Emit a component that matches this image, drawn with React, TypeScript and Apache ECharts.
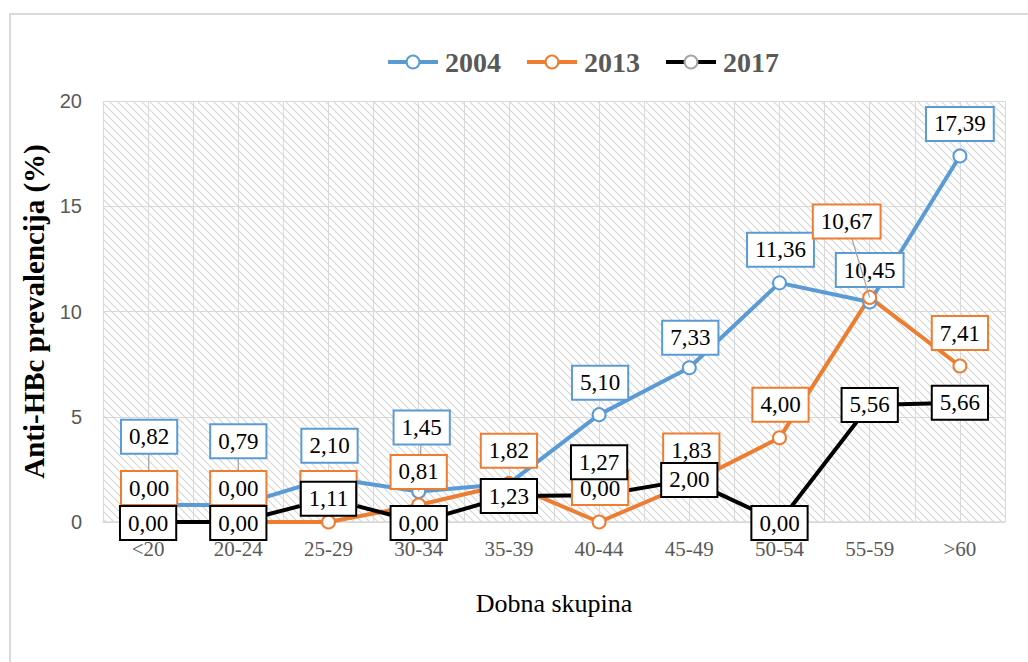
import React, { useEffect, useRef } from "react";
import * as echarts from "echarts";

const categories = ["<20", "20-24", "25-29", "30-34", "35-39", "40-44", "45-49", "50-54", "55-59", ">60"];
const values2004 = [0.82, 0.79, 2.1, 1.45, 1.82, 5.1, 7.33, 11.36, 10.45, 17.39];
const values2013 = [0.0, 0.0, 0.0, 0.81, 1.82, 0.0, 1.83, 4.0, 10.67, 7.41];
const values2017 = [0.0, 0.0, 1.11, 0.0, 1.23, 1.27, 2.0, 0.0, 5.56, 5.66];
const seriesNames = ["2004", "2013", "2017"];
const yTicks = [0, 5, 10, 15, 20];

// label placement (pixel offsets from the point), layout only
const labelLayout2004: (number[] | null)[] = [[1, -68, 1], [0, -64, 1], [1, -32, 0], [3, -64, 1], null, [1, -32, 0], [1, -30, 0], [1, -33, 0], [0, -32, 0], [0, -32, 0]];
const labelLayout2013: (number[] | null)[] = [[1, -34, 0], [0, -34, 0], [0, -34, 0], [0, -33, 0], [0, -33, 0], [1, -34, 0], [2, -33, 0], [1, -33, 0], [-23, -76, 1], [0, -33, 0]];
const labelLayout2017: (number[] | null)[] = [[0, 1, 0], [0, 1, 0], [0, 0, 0], [0, 1, 0], [0, 0, 0], [0, -33, 0], [0, 0, 0], [0, 1, 0], [0, 0, 0], [0, 0, 0]];

const COLORS = { c2004: "#5B9BD5", c2013: "#ED7D31", c2017: "#000000", m2017: "#A5A5A5" };

function makeHatch(): HTMLCanvasElement {
  const c = document.createElement("canvas");
  const s = 8;
  c.width = s;
  c.height = s;
  const ctx = c.getContext("2d")!;
  ctx.fillStyle = "#ffffff";
  ctx.fillRect(0, 0, s, s);
  ctx.strokeStyle = "#d6d6d6";
  ctx.lineWidth = 1.1;
  ctx.beginPath();
  ctx.moveTo(-1, -1);
  ctx.lineTo(s + 1, s + 1);
  ctx.moveTo(-1, s - 1);
  ctx.lineTo(1, s + 1);
  ctx.moveTo(s - 1, -1);
  ctx.lineTo(s + 1, 1);
  ctx.stroke();
  return c;
}

const fmt = (v: number) => v.toFixed(2).replace(".", ",");

function labelSeries(name: string, values: number[], layout: (number[] | null)[], border: string, z: number) {
  return {
    type: "custom",
    name: "lbl" + name,
    z,
    silent: true,
    clip: false,
    data: values.map((v, i) => [i, v]),
    renderItem: (params: any, api: any) => {
      const i = params.dataIndex;
      const lay = layout[i];
      if (!lay) return null;
      const p = api.coord([api.value(0), api.value(1)]);
      const lx = p[0] + lay[0];
      const ly = p[1] + lay[1];
      const children: any[] = [];
      if (lay[2]) {
        children.push({
          type: "line",
          shape: { x1: p[0], y1: p[1], x2: lx, y2: ly },
          style: { stroke: "#a6a6a6", lineWidth: 1.3 },
        });
      }
      children.push({
        type: "text",
        x: lx,
        y: ly,
        style: {
          text: fmt(values[i]),
          fontFamily: "Liberation Serif",
          fontSize: 23,
          fill: "#000",
          align: "center",
          verticalAlign: "middle",
          backgroundColor: "#fff",
          borderColor: border,
          borderWidth: 2,
          padding: [4, 7, 2, 7],
          lineHeight: 26,
        },
      });
      return { type: "group", children };
    },
  };
}

function lineSeries(name: string, values: number[], lineColor: string, markerColor: string) {
  return {
    type: "line",
    name,
    z: 2,
    data: values,
    symbol: "emptyCircle",
    symbolSize: 13,
    showAllSymbol: true,
    lineStyle: { color: lineColor, width: 4 },
    itemStyle: { color: markerColor, borderWidth: 3 },
    label: { show: false },
    emphasis: { disabled: true },
  };
}

export default function App() {
  const ref = useRef<HTMLDivElement>(null);
  useEffect(() => {
    document.body.style.margin = "0";
    const chart = echarts.init(ref.current!, null, { renderer: "svg" });
    const hatch = makeHatch();
    chart.setOption({
      animation: false,
      backgroundColor: "#ffffff",
      graphic: [
        {
          type: "rect",
          shape: { x: 10, y: 14, width: 1100, height: 700 },
          style: { fill: "none", stroke: "#d9d9d9", lineWidth: 2 },
          z: 0,
          silent: true,
        },
      ],
      legend: {
        data: seriesNames,
        left: 381,
        top: 43,
        itemWidth: 50,
        itemHeight: 16,
        itemGap: 24,
        lineStyle: { width: 4 },
        itemStyle: { borderWidth: 3 },
        textStyle: { fontFamily: "Liberation Serif", fontWeight: "bold", fontSize: 28, color: "#595959", padding: [0, 0, 0, 2] },
      },
      grid: {
        left: 103,
        top: 101,
        right: 23,
        bottom: 140,
        show: true,
        backgroundColor: { image: hatch, repeat: "repeat" },
        borderWidth: 0,
      },
      xAxis: [
        {
          type: "category",
          data: categories,
          boundaryGap: true,
          axisLine: { show: true, lineStyle: { color: "#d9d9d9", width: 1.5 } },
          axisTick: { show: false },
          splitLine: { show: false },
          axisLabel: { fontFamily: "Liberation Serif", fontSize: 21, color: "#595959", margin: 16 },
          name: "Dobna skupina",
          nameLocation: "middle",
          nameGap: 68,
          nameTextStyle: { fontFamily: "Liberation Serif", fontSize: 26, color: "#000" },
        },
        {
          type: "value",
          min: 0,
          max: 20,
          interval: 1,
          show: true,
          position: "bottom",
          axisLine: { show: false },
          axisTick: { show: false },
          axisLabel: { show: false },
          splitLine: { show: true, lineStyle: { color: "#d9d9d9", width: 1 } },
        },
      ],
      yAxis: {
        type: "value",
        min: yTicks[0],
        max: yTicks[yTicks.length - 1],
        interval: 5,
        axisLine: { show: false },
        axisTick: { show: false },
        axisLabel: { fontFamily: "Liberation Sans", fontSize: 20, color: "#595959", margin: 21 },
        splitLine: { show: true, lineStyle: { color: "#d9d9d9", width: 1 } },
        name: "Anti-HBc prevalencija (%)",
        nameLocation: "middle",
        nameGap: 46,
        nameTextStyle: { fontFamily: "Liberation Serif", fontWeight: "bold", fontSize: 29, color: "#000" },
      },
      series: [
        lineSeries("2004", values2004, COLORS.c2004, COLORS.c2004),
        lineSeries("2013", values2013, COLORS.c2013, COLORS.c2013),
        lineSeries("2017", values2017, COLORS.c2017, COLORS.m2017),
        labelSeries("2004", values2004, labelLayout2004, COLORS.c2004, 3),
        labelSeries("2013", values2013, labelLayout2013, COLORS.c2013, 4),
        labelSeries("2017", values2017, labelLayout2017, COLORS.c2017, 5),
      ],
    });
    return () => chart.dispose();
  }, []);
  return <div ref={ref} style={{ width: 1028, height: 662 }} />;
}
